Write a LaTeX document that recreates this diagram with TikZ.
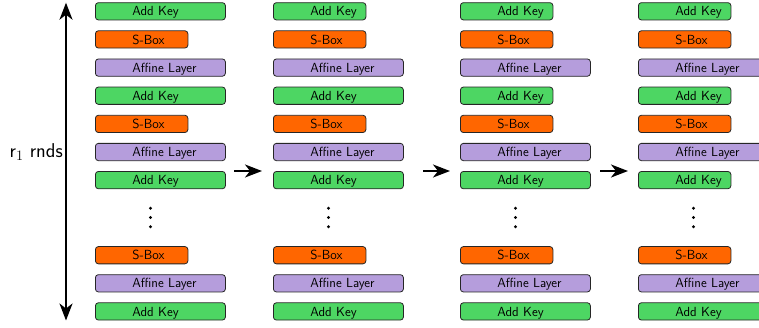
\documentclass[tikz,border=0pt]{standalone}
\usetikzlibrary{arrows.meta}
\definecolor{akgreen}{RGB}{77,214,99}
\definecolor{sborange}{RGB}{255,102,0}
\definecolor{alpurple}{RGB}{181,157,220}
\tikzset{
  blk/.style={draw=black!85, line width=0.8pt, rounded corners=3pt,
    inner xsep=0pt, inner ysep=0pt, minimum height=17.3pt,
    text height=10pt, text depth=0.7pt, anchor=west,
    font=\sffamily\fontsize{13.2}{15}\selectfont},
  ak/.style={blk, fill=akgreen},
  sb/.style={blk, fill=sborange},
  al/.style={blk, fill=alpurple},
  flow/.style={line width=2pt, -{Stealth[length=17pt,width=13pt,inset=5pt]}},
  biflow/.style={line width=2pt, {Stealth[length=17pt,width=13pt,inset=5pt]}-{Stealth[length=17pt,width=13pt,inset=5pt]}},
  lbl/.style={anchor=base east, inner sep=0pt, font=\sffamily\fontsize{20}{23}\selectfont}
}
\newcommand\mybox[5]{\node[#1] (#2) at (#3) {\makebox[#4pt][l]{\hspace{37pt}#5}};}
\begin{document}
\begin{tikzpicture}[x=1pt,y=-1pt]
\useasboundingbox (0,0) rectangle (759,327);
\foreach \c/\x/\wa/\wb/\wc in {1/95/130/130/130, 2/273/92.5/130/130, 3/460/92.5/92.5/130, 4/638/92.5/92.5/92.5} {
  \mybox{ak}{c\c-r1}{\x,11.3}{\wa}{Add Key}
  \mybox{sb}{c\c-r2}{\x,39.4}{92.5}{S-Box}
  \mybox{al}{c\c-r3}{\x,67.6}{130}{Affine Layer}
  \mybox{ak}{c\c-r4}{\x,95.7}{\wb}{Add Key}
  \mybox{sb}{c\c-r5}{\x,123.9}{92.5}{S-Box}
  \mybox{al}{c\c-r6}{\x,152.0}{130}{Affine Layer}
  \mybox{ak}{c\c-r7}{\x,180.1}{\wc}{Add Key}
  \mybox{sb}{c\c-r8}{\x,255.2}{92.5}{S-Box}
  \mybox{al}{c\c-r9}{\x,283.3}{130}{Affine Layer}
  \mybox{ak}{c\c-r10}{\x,311.4}{130}{Add Key}
  \fill (\x+55.5,208.3) circle (1.6);
  \fill (\x+55.5,217.5) circle (1.6);
  \fill (\x+55.5,226.7) circle (1.6);
}
\coordinate (h1a) at (234,171);
\coordinate (h1b) at (262,171);
\coordinate (h2a) at (423,171);
\coordinate (h2b) at (450,171);
\coordinate (h3a) at (600,171);
\coordinate (h3b) at (628,171);
\draw[flow] (h1a) -- (h1b);
\draw[flow] (h2a) -- (h2b);
\draw[flow] (h3a) -- (h3b);
\coordinate (vtop) at (66,2.7);
\coordinate (vbot) at (66,320.5);
\draw[biflow] (vbot) -- (vtop);
\node[lbl] (rl) at (63,157) {r$_1$ rnds};
\end{tikzpicture}
\end{document}
